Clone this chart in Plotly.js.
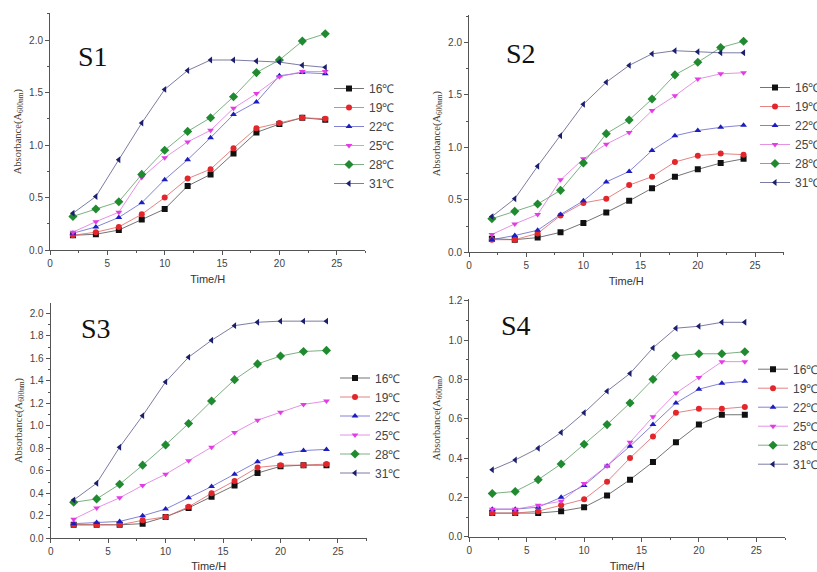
<!DOCTYPE html>
<html><head><meta charset="utf-8">
<script src="https://cdn.plot.ly/plotly-3.0.1.min.js"></script>
<style>html,body{margin:0;padding:0;background:#fff}#c{width:817px;height:572px}</style>
</head><body><div id="c"></div>
<script>
const time = [2,4,6,8,10,12,14,16,18,20,22,24];
const temps = ['16℃','19℃','22℃','25℃','28℃','31℃'];
const panelNames = ['S1','S2','S3','S4'];

// S1
const S1_16 = [0.14,0.15,0.19,0.29,0.39,0.61,0.72,0.92,1.12,1.20,1.26,1.24];
const S1_19 = [0.14,0.17,0.22,0.34,0.50,0.68,0.77,0.97,1.16,1.21,1.26,1.25];
const S1_22 = [0.16,0.22,0.31,0.45,0.67,0.86,1.07,1.29,1.41,1.66,1.69,1.68];
const S1_25 = [0.17,0.27,0.36,0.69,0.88,1.03,1.14,1.35,1.49,1.65,1.70,1.70];
const S1_28 = [0.32,0.39,0.46,0.72,0.95,1.13,1.26,1.46,1.69,1.81,1.99,2.06];
const S1_31 = [0.35,0.51,0.86,1.21,1.53,1.71,1.81,1.81,1.80,1.79,1.76,1.74];
// S2
const S2_16 = [0.13,0.12,0.14,0.19,0.28,0.38,0.49,0.61,0.72,0.79,0.85,0.89];
const S2_19 = [0.12,0.12,0.18,0.35,0.47,0.51,0.64,0.72,0.86,0.92,0.94,0.93];
const S2_22 = [0.12,0.16,0.21,0.36,0.49,0.67,0.77,0.97,1.11,1.16,1.19,1.21];
const S2_25 = [0.17,0.27,0.36,0.69,0.89,1.03,1.14,1.35,1.49,1.65,1.70,1.71];
const S2_28 = [0.32,0.39,0.46,0.59,0.85,1.13,1.26,1.46,1.69,1.81,1.95,2.01];
const S2_31 = [0.34,0.51,0.82,1.11,1.41,1.62,1.78,1.89,1.92,1.91,1.90,1.90];
// S3
const S3_16 = [0.12,0.12,0.12,0.13,0.19,0.27,0.37,0.47,0.58,0.64,0.65,0.65];
const S3_19 = [0.12,0.12,0.12,0.16,0.19,0.28,0.40,0.51,0.63,0.65,0.65,0.66];
const S3_22 = [0.13,0.14,0.15,0.20,0.26,0.36,0.46,0.57,0.68,0.75,0.78,0.79];
const S3_25 = [0.17,0.27,0.36,0.47,0.57,0.69,0.81,0.94,1.05,1.12,1.19,1.22];
const S3_28 = [0.32,0.35,0.48,0.65,0.83,1.02,1.22,1.41,1.55,1.62,1.66,1.67];
const S3_31 = [0.34,0.49,0.81,1.09,1.39,1.61,1.76,1.89,1.92,1.93,1.93,1.93];
// S4
const S4_16 = [0.12,0.12,0.12,0.13,0.15,0.21,0.29,0.38,0.48,0.57,0.62,0.62];
const S4_19 = [0.12,0.12,0.13,0.16,0.19,0.28,0.40,0.51,0.63,0.65,0.65,0.66];
const S4_22 = [0.14,0.14,0.15,0.20,0.26,0.36,0.46,0.57,0.68,0.75,0.78,0.79];
const S4_25 = [0.14,0.14,0.16,0.18,0.27,0.36,0.48,0.61,0.73,0.81,0.89,0.89];
const S4_28 = [0.22,0.23,0.29,0.37,0.47,0.57,0.68,0.80,0.92,0.93,0.93,0.94];
const S4_31 = [0.34,0.39,0.45,0.53,0.63,0.74,0.83,0.96,1.06,1.07,1.09,1.09];

const panelSeries = [
  [S1_16,S1_19,S1_22,S1_25,S1_28,S1_31],
  [S2_16,S2_19,S2_22,S2_25,S2_28,S2_31],
  [S3_16,S3_19,S3_22,S3_25,S3_28,S3_31],
  [S4_16,S4_19,S4_22,S4_25,S4_28,S4_31]
];

const markerColors = ['#111111','#e3262b','#1c1cc0','#e43ce4','#1f8a2f','#1b1f6e'];
const lineColors = ['rgba(70,70,70,0.75)','rgba(220,90,90,0.75)','rgba(90,90,200,0.75)','rgba(220,110,220,0.75)','rgba(80,150,90,0.75)','rgba(80,80,130,0.75)'];
const symbols = ['square','circle','triangle-up','triangle-down','diamond','triangle-left'];

const W = 817, H = 572;
// panel geometry in pixels: [left, right, bottom, top]
const geom = [[50,365.4,250,13.3],[469,783.6,252.3,15],[50.7,366.7,538.3,302.7],[469.3,785,536.7,299.3]];
const yMax = [2.255,2.26,2.094,1.207];
const yDtick = [0.5,0.5,0.2,0.2];
const legendPos = [[329,136],[755,135],[335,425.5],[753,416.7]];
const labelPos = [[93,56],[521,54],[96,328],[516,325]];

const traces = [];
const layout = {
  width: W, height: H,
  margin: {l:0,r:0,t:0,b:0,autoexpand:false},
  paper_bgcolor:'#fff', plot_bgcolor:'rgba(0,0,0,0)',
  font: {family:'Liberation Sans, Arial, sans-serif', color:'#333', size:10},
  annotations: []
};

panelSeries.forEach((series, p) => {
  const ax = p===0 ? '' : String(p+1);
  const legendId = p===0 ? 'legend' : 'legend'+(p+1);
  series.forEach((vals, i) => {
    traces.push({
      type:'scatter', mode:'lines+markers',
      x: time, y: vals, name: temps[i],
      xaxis:'x'+ax, yaxis:'y'+ax, legend: legendId,
      line:{color:lineColors[i], width:1},
      marker:{symbol:symbols[i], color:markerColors[i], size:i===4?7:6, line:{width:0}}
    });
  });
  const g = geom[p];
  const axLine = '#555';
  layout['xaxis'+ax] = {
    domain:[g[0]/W, g[1]/W], anchor:'y'+ax, range:[0,27.5],
    showgrid:false, zeroline:false, showline:true, linecolor:axLine, linewidth:1,
    ticks:'outside', ticklen:4, tickcolor:axLine, dtick:5, tick0:0,
    minor:{ticks:'outside', ticklen:2, tickcolor:axLine, dtick:2.5},
    tickfont:{size:10, color:'#444'},
    title:{text:'Time/H', font:{size:11, color:'#333'}, standoff:7}
  };
  layout['yaxis'+ax] = {
    domain:[1-g[2]/H, 1-g[3]/H], anchor:'x'+ax, range:[0,yMax[p]],
    showgrid:false, zeroline:false, showline:true, linecolor:axLine, linewidth:1,
    ticks:'outside', ticklen:4, tickcolor:axLine, dtick:yDtick[p], tick0:0,
    tickformat:'.1f',
    minor:{ticks:'outside', ticklen:2, tickcolor:axLine, dtick:yDtick[p]/2},
    tickfont:{size:10, color:'#444'},
    title:{text:'Absorbance(A<sub>600nm</sub>)', font:{family:'Liberation Serif, Times New Roman, serif', size:10.5, color:'#4a3a30'}, standoff:5}
  };
  const lp = legendPos[p];
  layout[legendId] = {
    x: lp[0]/W, y: 1-lp[1]/H, xanchor:'left', yanchor:'middle',
    bgcolor:'rgba(0,0,0,0)', borderwidth:0,
    font:{size:12, color:'#444'}, itemwidth:30, tracegroupgap:0
  };
  layout.annotations.push({
    xref:'paper', yref:'paper', x: labelPos[p][0]/W, y: 1-labelPos[p][1]/H,
    xanchor:'center', yanchor:'middle', showarrow:false,
    text: panelNames[p],
    font:{family:'Liberation Serif, Times New Roman, serif', size:28, color:'#111'}
  });
});

Plotly.newPlot('c', traces, layout, {displayModeBar:false, staticPlot:true});
</script>
</body></html>
